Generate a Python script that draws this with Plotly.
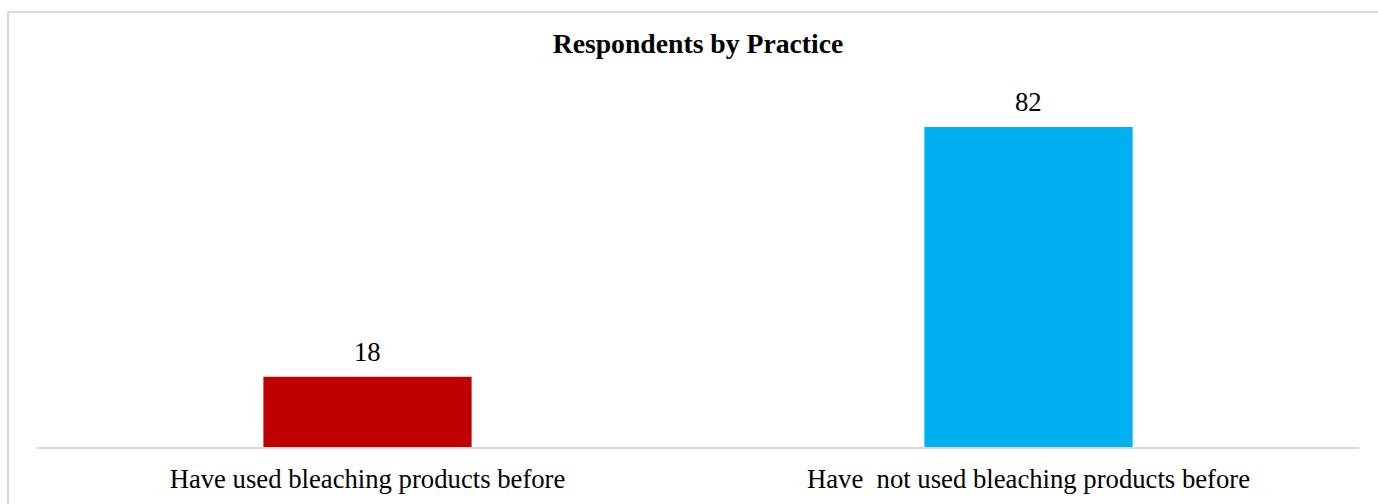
import plotly.graph_objects as go

categories = ["Have used bleaching products before", "Have\u00a0 not used bleaching products before"]
values = [18, 82]
bar_colors = ["#C00000", "#00B0F0"]
title_text = "Respondents by Practice"

FONT = "Times New Roman, Liberation Serif, serif"

fig = go.Figure()
fig.add_trace(go.Bar(
    x=categories,
    y=values,
    marker=dict(color=bar_colors, line=dict(width=0)),
    hoverinfo="skip",
))

for c, v in zip(categories, values):
    fig.add_annotation(
        x=c, y=v, xref="x", yref="y",
        text=str(v), showarrow=False,
        yanchor="bottom", yshift=8,
        font=dict(family=FONT, size=26.7, color="black"),
    )

# chart-area border (decorative frame)
fig.add_shape(
    type="rect", xref="paper", yref="paper",
    x0=(8 - 37) / 1322, x1=(1390 - 37) / 1322,
    y0=(447 - 520) / 359, y1=(447 - 12) / 359,
    line=dict(color="#d9d9d9", width=2),
    fillcolor="rgba(0,0,0,0)", layer="below",
)

fig.update_layout(
    width=1378, height=504,
    margin=dict(l=37, r=19, t=88, b=57, pad=0, autoexpand=False),
    paper_bgcolor="white", plot_bgcolor="white",
    bargap=0.685,
    showlegend=False,
    title=dict(
        text="<b>" + title_text + "</b>",
        x=0.5, xref="paper", xanchor="center",
        y=1 - 43 / 504, yref="container", yanchor="middle",
        font=dict(family=FONT, size=27.7, color="black"),
    ),
    font=dict(family=FONT, color="black"),
)
fig.update_xaxes(
    showline=True, linecolor="#d9d9d9", linewidth=2,
    ticks="", showgrid=False, zeroline=False, automargin=False,
    tickfont=dict(family=FONT, size=26.7, color="black"),
    ticklabelstandoff=7,
)
fig.update_yaxes(visible=False, range=[0, 92], showgrid=False, zeroline=False, automargin=False)

fig.write_html("out.html")
